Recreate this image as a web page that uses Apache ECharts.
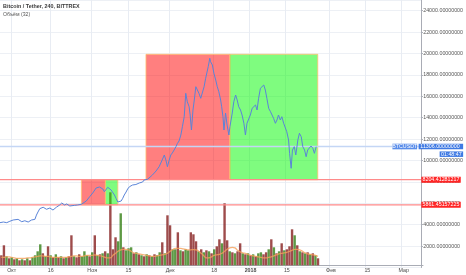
<!DOCTYPE html>
<html><head><meta charset="utf-8">
<script src="https://cdn.jsdelivr.net/npm/echarts@6/dist/echarts.min.js"></script>
<style>html,body{margin:0;padding:0;background:#fff}#c{width:466px;height:275px}</style>
</head><body><div id="c"></div>
<script>
// ---- data (x values are days from 1 Oct 2017) ----
const chartTitle = 'Bitcoin / Tether, 240, BITTREX';
const volumeTitle = 'Объём (32)';
const symbolName = 'BTCUSDT';
const countdown = '01:48:47';
const xRangeDays = [-4.51, 158.44];
const tickDays = [0, 15, 31, 45, 61, 78, 92, 106, 123, 137, 151];
const tickLabels = ['Окт', '16', 'Ноя', '15', 'Дек', '18', '2018', '15', 'Фев', '15', 'Мар'];
const priceMin = 0, priceMax = 25000, priceStep = 2000;

const priceDays = [-4.5,-3.2,-1.9,-0.7,0.6,1.3,2.5,3.9,5.1,6.4,7.7,9.0,9.6,10.2,10.9,11.6,12.2,13.5,14.8,16.0,17.3,18.6,19.4,20.5,21.3,22.5,23.2,24.4,25.5,27.0,
 27.6,28.9,30.2,31.4,32.7,33.4,34.0,34.7,35.3,35.9,36.6,37.2,37.9,38.5,39.1,39.8,40.4,41.1,41.7,42.4,43.0,43.6,44.3,44.9,45.6,46.2,46.8,47.5,48.1,48.8,49.4,50.1,50.7,51.3,52.0,52.6,53.3,
 54.5,55.9,57.1,58.1,59.1,59.7,60.3,61.0,61.6,62.2,62.9,63.6,64.2,64.8,65.5,66.1,66.8,67.4,68.0,68.7,69.1,69.6,70.2,70.7,71.3,71.9,72.5,73.2,73.8,74.5,
 75.1,75.7,76.1,76.7,77.0,77.7,78.3,79.0,79.6,80.2,80.9,81.3,81.8,82.2,82.8,83.4,84.1,84.5,85.4,86.0,86.7,87.3,87.9,88.6,89.2,89.9,90.5,91.1,91.8,92.4,
 93.1,93.7,94.4,95.0,95.6,96.3,96.9,97.6,98.2,98.8,99.5,100.2,100.8,101.4,102.1,102.7,103.3,104.0,104.6,105.3,105.9,106.5,107.2,107.6,108.2,108.7,109.4,110.0,110.8,111.4,
 112.1,112.7,113.4,114.0,114.6,115.3,115.9,116.6,117.2,117.9,118.1];
const priceValues = [4190,4250,4190,4320,4440,4370,4500,4280,4370,4250,4440,4500,4900,5190,5500,5370,5630,5440,5560,5370,5630,5840,6030,5840,5940,5750,5650,5810,5840,5910,
 5935,6215,6617,6963,7430,7271,7523,7551,7336,7084,7243,7495,7402,7243,7084,6776,6467,6121,6000,6215,6467,6776,7056,7336,7551,7477,7710,7869,7757,7925,7897,8019,7990,8178,8084,8243,8250,
 8645,9019,9421,9953,10514,10047,9421,10047,10514,10701,10981,11290,11607,11822,12383,13159,14093,16280,15495,15028,14252,12850,14720,15654,16897,16589,16280,15813,15963,16897,
 17682,17523,18766,19551,19234,18925,18150,17523,16897,16430,15654,15028,14093,12850,14439,13318,12383,13159,14439,15495,16121,15654,15028,14720,14252,13477,12383,13477,13626,14252,
 14879,14720,15187,14720,15813,16748,16897,17056,16589,15813,14879,14561,14720,13944,13477,13785,14252,13785,14093,13477,13626,12692,11916,10673,9271,10981,11290,10514,11916,12542,
 12224,11290,10981,10355,10981,10822,11355,11140,10673,11290,11306];
const lastPrice = 11306;
const levelPrices = [8204.41281217, 5861.45157225];

const boxStart = [27.0, 36.3, 52.0, 84.5];
const boxEnd   = [36.3, 41.1, 84.5, 118.5];
const boxLow   = [5861.45157225, 5861.45157225, 8204.41281217, 8204.41281217];
const boxHigh  = [8204.41281217, 8204.41281217, 19925, 19925];
const boxKind  = ['loss', 'gain', 'loss', 'gain'];

const volStartDay = -4;
const volValues = [10,20,9,7,8,6,7,5,6,5,7,5,8,
 10,14,21,12,9,19,10,8,11,8,9,7,
 8,9,30,9,8,11,9,14,10,9,13,30,10,11,12,14,12,
 73,16,28,24,52,18,15,17,18,12,13,11,10,9,11,10,9,11,10,13,23,12,
 50,40,16,16,33,15,14,16,15,33,31,24,14,16,13,15,14,12,16,19,26,22,
 62,25,14,13,12,14,22,12,11,12,10,11,9,12,13,11,13,
 16,26,18,12,14,22,15,16,19,36,30,20,14,13,12,13,11,12,10,7];
const volUp = [0,0,1,0,1,0,1,0,1,0,1,0,1,
 1,1,1,0,1,0,1,0,1,0,1,0,
 1,0,0,1,0,0,1,1,1,0,1,0,1,0,1,0,1,
 0,0,0,1,1,0,1,1,1,0,1,0,1,0,1,0,1,0,1,1,0,1,
 0,0,1,1,0,1,0,1,1,0,0,0,1,0,1,0,1,0,1,0,0,1,
 0,0,1,0,1,0,0,1,0,1,0,1,0,1,1,0,0,
 1,0,1,0,1,0,1,0,0,0,1,0,1,0,1,0,1,0,1,0];
const volMA = [8,8,8.5,8.5,8,7.5,7,7,7,7,7.5,7.5,8,
 8.5,9,9.5,9.5,9,9,8.5,8,8,8,8,8,
 8,8.5,9,9.5,9.5,9,9,9.5,10,10,10,10.5,10,9.5,9,8,7.5,
 7.5,10,12,14,15.5,16,16,15.5,14,12.5,12,11.5,11,10.5,10,9.5,9,9,9.5,10,10.5,11,
 12,14,15.5,17,17,17,16.5,16,15.5,15.5,15.7,15.5,14,12,9.5,7.5,7.5,8.5,10,10.5,11,12,
 14,16,17.5,18,17.5,15,13.5,12.5,12,11,10,9.5,9,8.5,8,7.5,7.5,
 8,8.5,9.5,10.5,11.5,12,12.5,13,14,15,16,16,15.5,14,12.5,11.5,11,10.5,10,9];

// ---- chart ----
const FONT = 'Liberation Sans, Arial, sans-serif';
const FS = 5.3;
const volDays = volValues.map((_, i) => volStartDay + i);
const boxColors = { loss: 'rgba(255,0,0,0.5)', gain: 'rgba(0,250,0,0.5)' };

const levelSeries = levelPrices.map(p => ({
  type: 'line', xAxisIndex: 0, yAxisIndex: 0, z: 4, silent: true, showSymbol: false, symbol: 'none',
  color: '#ff8a8a', lineStyle: { color: '#ff8a8a', width: 1.2, type: 'solid' },
  data: [[xRangeDays[0], p], [xRangeDays[1], p]],
  endLabel: { show: true, distance: 0.4, formatter: () => p.toFixed(8),
    backgroundColor: '#ff2525', color: '#ffffff', fontSize: FS, fontFamily: FONT,
    padding: [0.6, 1.4, 0.4, 1.2] }
}));

const chart = echarts.init(document.getElementById('c'), null, { renderer: 'canvas' });
const option = {
  animation: false,
  backgroundColor: '#ffffff',
  textStyle: { fontFamily: FONT },
  grid: [
    { left: 0, right: 43, top: 0, bottom: 7.5 },
    { left: 0, right: 43, top: 165.3, bottom: 9.7 }
  ],
  xAxis: [
    { gridIndex: 0, type: 'value', min: xRangeDays[0], max: xRangeDays[1], show: false },
    { gridIndex: 1, type: 'value', min: xRangeDays[0], max: xRangeDays[1],
      axisLine: { show: true, onZero: false, lineStyle: { color: '#a9acb5', width: 1 } },
      axisTick: { show: false }, splitLine: { show: false },
      axisLabel: {
        customValues: tickDays, margin: 2.5, fontSize: FS, color: '#4a4a4a', fontFamily: FONT,
        formatter: v => {
          let i = 0, best = 1e9;
          tickDays.forEach((d, k) => { if (Math.abs(d - v) < best) { best = Math.abs(d - v); i = k; } });
          return tickLabels[i] === '2018' ? '{b|2018}' : tickLabels[i];
        },
        rich: { b: { fontWeight: 'bold', fontSize: FS, color: '#4a4a4a', fontFamily: FONT } }
      }
    }
  ],
  yAxis: [
    { gridIndex: 0, type: 'value', position: 'right', min: priceMin, max: priceMax, interval: priceStep,
      axisLine: { show: true, onZero: false, lineStyle: { color: '#a9acb5', width: 1 } },
      axisTick: { show: true, length: 2, lineStyle: { color: '#a9acb5' } },
      splitLine: { show: true, lineStyle: { color: '#edf0f5', width: 1 } },
      axisLabel: { showMinLabel: false, showMaxLabel: false, margin: 2.3, fontSize: FS, color: '#555',
        fontFamily: FONT, formatter: v => v.toFixed(8) } },
    { gridIndex: 1, type: 'value', min: 0, max: 100, show: false }
  ],
  series: [
    { // vertical grid lines
      type: 'line', xAxisIndex: 0, yAxisIndex: 0, data: [], z: 0, silent: true,
      markLine: { silent: true, z: 0, symbol: ['none', 'none'], label: { show: false },
        lineStyle: { color: '#e8ecf3', width: 1, type: 'solid' },
        data: tickDays.map(d => ({ xAxis: d })) }
    },
    { // volume bars
      type: 'bar', xAxisIndex: 1, yAxisIndex: 1, barWidth: 2.4, z: 1, silent: true,
      data: volValues.map((v, i) => ({ value: [volDays[i], v],
        itemStyle: { color: volUp[i] ? 'rgba(52,128,22,0.8)' : 'rgba(125,16,16,0.75)' } }))
    },
    { // volume MA
      type: 'line', xAxisIndex: 1, yAxisIndex: 1, smooth: true, showSymbol: false, z: 2, silent: true,
      lineStyle: { color: 'rgba(245,160,90,0.8)', width: 1.3 },
      data: volMA.map((v, i) => [volDays[i], v])
    },
    { // boxes
      type: 'line', xAxisIndex: 0, yAxisIndex: 0, data: [], z: 3, silent: true,
      markArea: { silent: true, z: 3,
        data: boxStart.map((s, i) => [
          { xAxis: s, yAxis: boxHigh[i], itemStyle: { color: boxColors[boxKind[i]], borderColor: '#ffc070', borderWidth: 0.8 } },
          { xAxis: boxEnd[i], yAxis: boxLow[i] }
        ]) }
    },
    ...levelSeries,
    { // last price line
      type: 'line', xAxisIndex: 0, yAxisIndex: 0, z: 4, silent: true, showSymbol: false, symbol: 'none',
      lineStyle: { color: '#c4d6f5', width: 1.5, type: 'solid' },
      data: [[xRangeDays[0], lastPrice], [xRangeDays[1], lastPrice]]
    },
    { // price line
      type: 'line', xAxisIndex: 0, yAxisIndex: 0, showSymbol: false, z: 6, silent: true,
      lineStyle: { color: '#5a84d8', width: 1 },
      data: priceDays.map((d, i) => [d, priceValues[i]])
    }
  ]
};
chart.setOption(option);

// titles and the last-price tag, placed through the axis scale
const yLast = chart.convertToPixel({ yAxisIndex: 0 }, lastPrice);
const xEdge = chart.convertToPixel({ xAxisIndex: 0 }, xRangeDays[1]);
chart.setOption({ graphic: [
  { type: 'text', left: 3, top: 3.6, silent: true,
    style: { text: chartTitle, font: 'bold 5.4px ' + FONT, fill: '#3b3b3b' } },
  { type: 'text', left: 3, top: 12, silent: true,
    style: { text: volumeTitle, font: '5.2px ' + FONT, fill: '#555' } },
  { type: 'rect', silent: true, z: 10, shape: { x: xEdge - 28.5, y: yLast - 2.8, width: 24.7, height: 5.6 },
    style: { fill: '#5b8eea' } },
  { type: 'text', silent: true, z: 11, x: xEdge - 16.2, y: yLast + 0.1,
    style: { text: symbolName, font: FS + 'px ' + FONT, fill: '#fff', align: 'center', verticalAlign: 'middle' } },
  { type: 'rect', silent: true, z: 10, shape: { x: xEdge - 2.3, y: yLast - 2.8, width: 44.5, height: 5.6 },
    style: { fill: '#3f7ae3' } },
  { type: 'text', silent: true, z: 11, x: xEdge - 0.6, y: yLast + 0.1,
    style: { text: lastPrice.toFixed(8), font: FS + 'px ' + FONT, fill: '#fff', align: 'left', verticalAlign: 'middle' } },
  { type: 'rect', silent: true, z: 10, shape: { x: xEdge + 18.7, y: yLast + 4.9, width: 23.5, height: 5.5 },
    style: { fill: '#3f7ae3' } },
  { type: 'text', silent: true, z: 11, x: xEdge + 30.4, y: yLast + 7.7,
    style: { text: countdown, font: FS + 'px ' + FONT, fill: '#fff', align: 'center', verticalAlign: 'middle' } }
] });
</script></body></html>
